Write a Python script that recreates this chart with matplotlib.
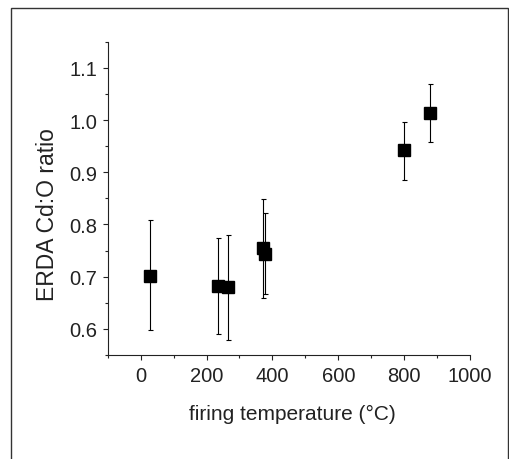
import numpy as np
import matplotlib
matplotlib.use("Agg")
import matplotlib.pyplot as plt
from matplotlib.patches import Rectangle
from matplotlib.ticker import MultipleLocator

plt.rcParams['font.family'] = ['Liberation Sans', 'DejaVu Sans']

# datos
temperatura = [28, 236, 266, 373, 379, 800, 879]
ratio = [0.702, 0.683, 0.680, 0.755, 0.744, 0.943, 1.014]
err_sup = [0.106, 0.092, 0.100, 0.094, 0.078, 0.054, 0.055]
err_inf = [0.105, 0.093, 0.101, 0.095, 0.077, 0.058, 0.057]

fig = plt.figure(figsize=(5.09, 4.60), dpi=100)
ax = fig.add_axes([0.2116, 0.2261, 0.9234 - 0.2116, 0.9072 - 0.2261])

# marco alrededor de la figura
fig.patches.append(Rectangle((11 / 509, -0.05), (508 - 11) / 509, 1.05 - 9 / 460,
                             transform=fig.transFigure, fill=False,
                             edgecolor='#333333', linewidth=1.0))

ax.errorbar(temperatura, ratio, yerr=[err_inf, err_sup], fmt='s', color='black',
            markersize=8.8, ecolor='black', elinewidth=0.8, capsize=1.8,
            capthick=0.8)

ax.set_xlim(-100, 1000)
ax.set_ylim(0.55, 1.15)
ax.xaxis.set_major_locator(MultipleLocator(200))
ax.xaxis.set_minor_locator(MultipleLocator(100))
ax.yaxis.set_major_locator(MultipleLocator(0.1))
ax.yaxis.set_minor_locator(MultipleLocator(0.05))
ax.yaxis.set_major_formatter(matplotlib.ticker.FormatStrFormatter('%.1f'))

ax.spines['top'].set_visible(False)
ax.spines['right'].set_visible(False)
for s in ['left', 'bottom']:
    ax.spines[s].set_linewidth(0.8)
    ax.spines[s].set_color('#222222')

ax.tick_params(which='major', direction='out', length=3.6, width=0.8,
               labelsize=14.5, colors='#222222', pad=4)
ax.tick_params(which='minor', direction='out', length=2.2, width=0.8,
               colors='#222222')

ax.set_xlabel("firing temperature (°C)", fontsize=15, color='#222222')
ax.set_ylabel("ERDA Cd:O ratio", fontsize=16.5, color='#222222')
ax.xaxis.set_label_coords(0.51, -0.188)
ax.xaxis.label.set_va('center')
ax.yaxis.set_label_coords(-0.1675, 0.45)
ax.yaxis.label.set_va('center')

fig.savefig("out.png", dpi=100)
